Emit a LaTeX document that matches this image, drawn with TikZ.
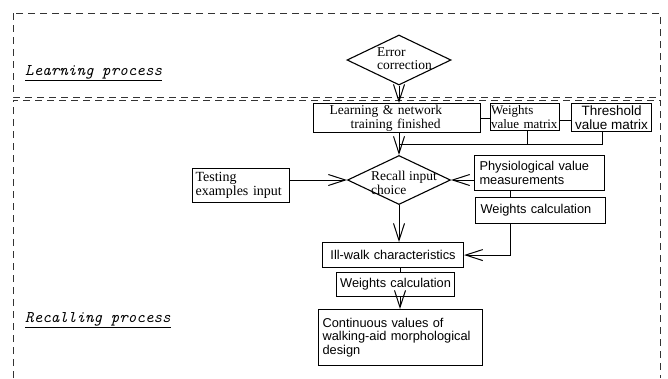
\documentclass[tikz,border=0pt]{standalone}
\usepackage{fontspec}
\setmainfont{Liberation Serif}
\setsansfont{Liberation Sans}
\usetikzlibrary{arrows.meta,shapes.geometric}
\begin{document}
\begin{tikzpicture}[x=1pt,y=-1pt,
  box/.style={draw,line width=1.1pt,inner ysep=0pt,align=left,anchor=north west},
  rm/.style={font=\fontsize{13.5}{13.5}\selectfont},
  sf/.style={font=\sffamily\fontsize{12.8}{13.5}\selectfont},
  lbl/.style={font=\ttfamily\itshape\fontsize{16.3}{18}\selectfont,inner sep=0pt,anchor=west},
  diam/.style={diamond,draw,line width=1.1pt,inner sep=0pt},
  ln/.style={line width=1pt},
  arr/.style={line width=1pt,-{Straight Barb[length=17pt,width=11pt]}},
  frame/.style={line width=0.8pt,draw=black!80,dash pattern=on 7pt off 5pt}]
\useasboundingbox (0,0) rectangle (668,378);
% frames
\draw[frame] (13,13) rectangle (660,97);
\draw[frame] (13,378) -- (13,100) -- (660,100) -- (660,378);
% labels
\node[lbl] (lp) at (25,73) {\underline{Learning process}};
\node[lbl] (rp) at (25,320) {\underline{Recalling process}};
% error correction
\node[diam,minimum width=104pt,minimum height=50pt] (err) at (399,60) {};
\node[rm,align=left,anchor=west,inner sep=0pt] (errt) at (377,58.5) {Error\\correction};
% top boxes
\node[box,rm,text width=135pt,inner xsep=16pt,minimum height=29pt] (learn) at (313,103) {Learning \& network\\\hspace*{21pt}training finished};
\node[box,font=\fontsize{13}{13.5}\selectfont,text width=68pt,inner xsep=0.5pt,minimum height=27pt] (wvm) at (490,103) {Weights\\value\ matrix};
\node[box,align=center,font=\sffamily\fontsize{13.5}{14}\selectfont,minimum width=80pt,inner xsep=1pt,minimum height=28pt] (thr) at (571,103) {Threshold\\value matrix};
% recall diamond
\node[diam,minimum width=103pt,minimum height=49pt] (rec) at (399,180) {};
\node[rm,align=left,anchor=west,inner sep=0pt] (rect) at (371,183) {Recall input\\choice};
% side boxes
\node[box,font=\fontsize{14}{14.5}\selectfont,text width=91pt,inner xsep=3pt,minimum height=34pt] (test) at (192,168) {Testing\\examples input};
\node[box,sf,text width=120pt,inner xsep=5pt,minimum height=35pt] (phys) at (474,155) {Physiological value\\measurements};
\node[box,sf,text width=120pt,inner xsep=5pt,minimum height=26pt] (wc1) at (475,197) {Weights calculation};
% lower boxes
\node[box,sf,align=center,text width=137pt,inner xsep=2pt,minimum height=25pt] (ill) at (322,242) {Ill-walk characteristics};
\node[box,sf,align=center,text width=114pt,inner xsep=2pt,minimum height=24pt] (wc2) at (336,272) {Weights calculation};
\node[box,sf,text width=156pt,inner xsep=4pt,minimum height=56pt] (cont) at (318,309) {Continuous values of\\walking-aid morphological\\design};
% helper coordinates
\coordinate (b0) at (399,144);
\coordinate (b1) at (527,144);
\coordinate (b2) at (602,144);
\coordinate (pw) at (510,0);
\coordinate (cx) at (400,0);
% connectors
\draw[arr] (err.south) -- (err.south |- learn.north);
\draw[ln] (learn.east) -- (learn.east -| wvm.west);
\draw[ln] ([yshift=-3pt]wvm.east) -- ([yshift=-3pt]wvm.east -| thr.west);
\draw[ln] (b1 |- wvm.south) -- (b1);
\draw[ln] (b2 |- thr.south) -- (b2) -- (b0);
\draw[arr] (rec.north |- learn.south) -- (rec.north);
\draw[arr] (test.east |- rec.west) -- (rec.west);
\draw[arr] (phys.west |- rec.east) -- (rec.east);
\draw[ln] (pw |- phys.south) -- (pw |- wc1.north);
\draw[arr] (pw |- wc1.south) -- (pw |- ill.east) -- (ill.east);
\draw[arr] (rec.south) -- (rec.south |- ill.north);
\draw[ln] (cx |- ill.south) -- (cx |- wc2.north);
\draw[arr] (cx |- wc2.south) -- (cx |- cont.north);
\end{tikzpicture}
\end{document}
